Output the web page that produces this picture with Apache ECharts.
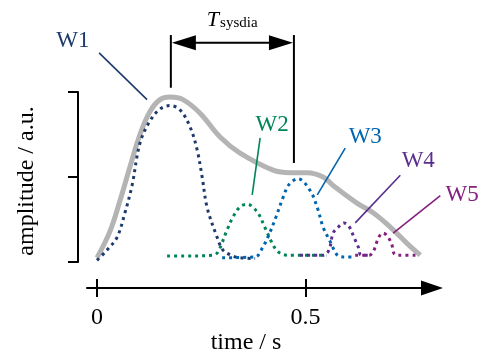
<!DOCTYPE html>
<html>
<head>
<meta charset="utf-8">
<script src="https://cdn.jsdelivr.net/npm/echarts@6/dist/echarts.min.js"></script>
<style>html,body{margin:0;padding:0;background:#fff}#c{width:481px;height:356px}</style>
</head>
<body>
<div id="c"></div>
<script>
// ---- data (time in s, amplitude in a.u.) ----
const xTickValues = [0, 0.5];
const yTickValues = [0, 1, 2];
const xAxisName = 'time / s';
const yAxisName = 'amplitude / a.u.';

const sumT = [0, 0.031, 0.055, 0.079, 0.103, 0.127, 0.151, 0.175, 0.206, 0.247, 0.295, 0.343, 0.422, 0.463, 0.504, 0.542, 0.566, 0.624, 0.662, 0.703, 0.743, 0.775];
const sumA = [0.05, 0.36, 0.72, 1.12, 1.50, 1.77, 1.91, 1.94, 1.91, 1.75, 1.47, 1.28, 1.08, 1.05, 1.05, 1.0, 0.9, 0.69, 0.58, 0.41, 0.22, 0.08];

const w1T = [0, 0.024, 0.048, 0.067, 0.084, 0.103, 0.127, 0.151, 0.175, 0.199, 0.223, 0.240, 0.252, 0.264, 0.288, 0.302, 0.326, 0.343, 0.379];
const w1A = [0.02, 0.14, 0.29, 0.58, 0.9, 1.40, 1.66, 1.80, 1.84, 1.79, 1.59, 1.32, 1.0, 0.64, 0.29, 0.14, 0.07, 0.05, 0.04];

const w2T = [0.168, 0.206, 0.278, 0.290, 0.312, 0.326, 0.343, 0.360, 0.384, 0.403, 0.420, 0.434, 0.456, 0.550];
const w2A = [0.07, 0.07, 0.08, 0.12, 0.38, 0.53, 0.65, 0.68, 0.59, 0.40, 0.22, 0.12, 0.08, 0.08];

const w3T = [0.30, 0.379, 0.398, 0.412, 0.429, 0.446, 0.460, 0.482, 0.511, 0.528, 0.542, 0.559, 0.576, 0.590, 0.619];
const w3A = [0.05, 0.06, 0.18, 0.32, 0.53, 0.76, 0.91, 0.98, 0.84, 0.64, 0.41, 0.24, 0.08, 0.06, 0.06];

const w4T = [0.487, 0.542, 0.556, 0.566, 0.580, 0.592, 0.604, 0.616, 0.626, 0.633, 0.650];
const w4A = [0.08, 0.08, 0.14, 0.34, 0.42, 0.46, 0.42, 0.29, 0.18, 0.08, 0.08];

const w5T = [0.619, 0.652, 0.662, 0.671, 0.679, 0.686, 0.698, 0.707, 0.712, 0.722, 0.767];
const w5A = [0.08, 0.08, 0.12, 0.24, 0.32, 0.34, 0.29, 0.20, 0.10, 0.08, 0.08];

const waveNames = ['W1', 'W2', 'W3', 'W4', 'W5'];
const waveColors = ['#1d3a6b', '#00855a', '#0065b0', '#5b2d8e', '#86207f'];
const periodLabel = 'T';
const periodSub = 'sysdia';

// ---- annotation anchors, in data coordinates ----
const labelAt = [[-0.058, 2.60], [0.42, 1.61], [0.643, 1.47], [0.77, 1.19], [0.875, 0.79]];
const leaders = [
  [[0.005, 2.46], [0.12, 1.91]],
  [[0.391, 1.46], [0.372, 0.79]],
  [[0.595, 1.34], [0.528, 0.79]],
  [[0.727, 1.02], [0.619, 0.46]],
  [[0.823, 0.78], [0.710, 0.34]]
];
const periodStart = 0.177, periodEnd = 0.472;
const periodTop = 2.67, periodArrowY = 2.58, periodStartBottom = 2.05, periodEndBottom = 1.165;

const zip = (a, b) => a.map((v, i) => [v, b[i]]);
const FONT = "'Liberation Serif','Times New Roman',serif";

const chart = echarts.init(document.getElementById('c'), null, {renderer: 'canvas'});

const dotted = (name, t, a, color) => ({
  name, type: 'line', data: zip(t, a), showSymbol: false, smooth: 0.35, clip: false,
  lineStyle: {color, width: 3, type: [3, 4], cap: 'butt'}, silent: true, z: 3
});

chart.setOption({
  animation: false,
  grid: {left: 87, right: 49, top: 92, bottom: 94, containLabel: false},
  xAxis: [{
    type: 'value', min: -0.024, max: 0.803, offset: 26,
    axisLine: {show: true, onZero: false, lineStyle: {color: '#000', width: 2}, symbol: ['none', 'triangle'], symbolSize: [15, 22]},
    axisTick: {show: true, customValues: xTickValues, length: 9, lineStyle: {color: '#000', width: 2}},
    axisLabel: {show: true, customValues: xTickValues, margin: 18, color: '#000', fontFamily: FONT, fontSize: 24},
    splitLine: {show: false},
    name: xAxisName, nameLocation: 'middle', nameGap: 37,
    nameTextStyle: {color: '#000', fontFamily: FONT, fontSize: 24, padding: [0, 27, 0, 0]}
  }, {
    type: 'value', min: -0.024, max: 0.803, offset: 26, position: 'bottom',
    axisLine: {show: false, onZero: false},
    axisTick: {show: true, inside: true, customValues: xTickValues, length: 9, lineStyle: {color: '#000', width: 2}},
    axisLabel: {show: false}, splitLine: {show: false}
  }],
  yAxis: {
    type: 'value', min: 0, max: 2, interval: 1, offset: 9,
    axisLine: {show: true, onZero: false, lineStyle: {color: '#000', width: 2}},
    axisTick: {show: true, length: 10, lineStyle: {color: '#000', width: 2}},
    axisLabel: {show: false}, splitLine: {show: false},
    name: yAxisName, nameLocation: 'middle', nameRotate: 90, nameGap: 39,
    nameTextStyle: {color: '#000', fontFamily: FONT, fontSize: 24, padding: [0, 8, 0, 0]}
  },
  series: [
    {name: 'sum', type: 'line', data: zip(sumT, sumA), showSymbol: false, smooth: 0.4, clip: false,
     lineStyle: {color: '#b4b4b4', width: 5}, silent: true, z: 2},
    dotted(waveNames[0], w1T, w1A, waveColors[0]),
    dotted(waveNames[1], w2T, w2A, waveColors[1]),
    dotted(waveNames[2], w3T, w3A, waveColors[2]),
    dotted(waveNames[3], w4T, w4A, waveColors[3]),
    dotted(waveNames[4], w5T, w5A, waveColors[4])
  ]
});

const px = (p) => chart.convertToPixel({gridIndex: 0}, p);
const graphics = [];
waveNames.forEach((n, i) => {
  const p = px(labelAt[i]);
  graphics.push({type: 'text', style: {text: n, x: p[0], y: p[1], fill: waveColors[i], font: '23px ' + FONT, align: 'center', verticalAlign: 'middle'}, z: 10});
  const a = px(leaders[i][0]), b = px(leaders[i][1]);
  graphics.push({type: 'line', shape: {x1: a[0], y1: a[1], x2: b[0], y2: b[1]}, style: {stroke: waveColors[i], lineWidth: 1.6}, z: 10});
});
// period annotation
const s1 = px([periodStart, periodTop]), s2 = px([periodStart, periodStartBottom]);
const e1 = px([periodEnd, periodTop]), e2 = px([periodEnd, periodEndBottom]);
const ay = px([periodStart, periodArrowY])[1];
graphics.push({type: 'line', shape: {x1: s1[0], y1: s1[1], x2: s2[0], y2: s2[1]}, style: {stroke: '#000', lineWidth: 2}});
graphics.push({type: 'line', shape: {x1: e1[0], y1: e1[1], x2: e2[0], y2: e2[1]}, style: {stroke: '#000', lineWidth: 2}});
graphics.push({type: 'line', shape: {x1: s1[0] + 20, y1: ay, x2: e1[0] - 20, y2: ay}, style: {stroke: '#000', lineWidth: 2}});
const ah = 24, aw = 7.5;
graphics.push({type: 'polygon', shape: {points: [[s1[0] + 1, ay], [s1[0] + 1 + ah, ay - aw], [s1[0] + 1 + ah, ay + aw]]}, style: {fill: '#000'}});
graphics.push({type: 'polygon', shape: {points: [[e1[0] - 1, ay], [e1[0] - 1 - ah, ay - aw], [e1[0] - 1 - ah, ay + aw]]}, style: {fill: '#000'}});
const tp = px([0.278, 2.85]), sp = px([0.295, 2.81]);
graphics.push({type: 'text', style: {text: periodLabel, x: tp[0], y: tp[1], fill: '#000', font: 'italic 22px ' + FONT, align: 'center', verticalAlign: 'middle'}});
graphics.push({type: 'text', style: {text: periodSub, x: sp[0], y: sp[1], fill: '#000', font: '15px ' + FONT, align: 'left', verticalAlign: 'middle'}});

chart.setOption({graphic: graphics});
</script>
</body>
</html>
